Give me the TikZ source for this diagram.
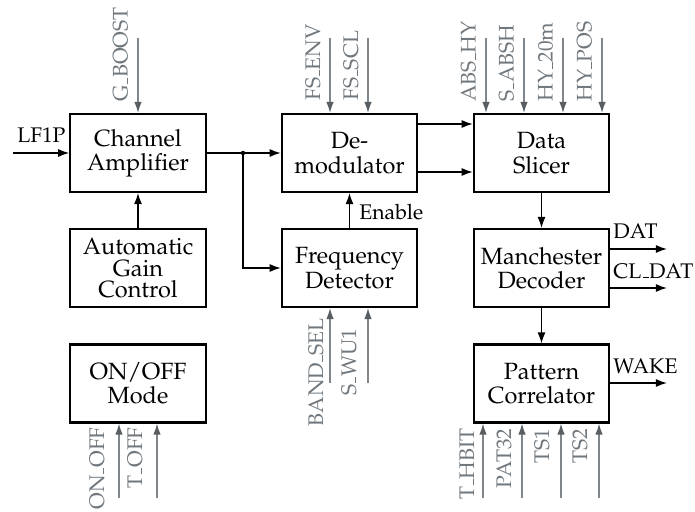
\documentclass[tikz,border=0pt]{standalone}
\usepackage[OT1]{fontenc}
\usepackage{mathpazo}
\usetikzlibrary{arrows.meta}
\definecolor{sigline}{RGB}{128,134,138}
\definecolor{sighead}{RGB}{88,94,98}
\definecolor{sigtext}{RGB}{112,120,126}
\tikzset{
  blk/.style={draw, line width=0.9pt, minimum width=57.65pt, minimum height=33.2pt,
    inner sep=0pt, align=center, font=\fontsize{10pt}{10.3pt}\selectfont},
  wire/.style={line width=0.55pt},
  conn/.style={wire, -{Latex[length=4.7pt,width=3.4pt]}},
  sig/.style={draw=sigline, line width=0.55pt, -{Latex[length=4.7pt,width=3.2pt,color=sighead]}},
  toplbl/.style={rotate=90, anchor=base west, inner sep=0pt, text=sigtext, font=\small},
  botlbl/.style={rotate=90, anchor=base east, inner sep=0pt, text=sigtext, font=\small},
  outlbl/.style={anchor=base west, inner sep=0pt, font=\small},
}
\begin{document}
\begin{tikzpicture}[x=0.4255pt, y=-0.4255pt]
\useasboundingbox (0,0) rectangle (695,511);

% blocks
\node[blk] (ca)  at (138,153)   {Channel\\Amplifier};
\node[blk, font=\fontsize{10pt}{9.3pt}\selectfont] (agc) at (138,268) {Automatic\\Gain\\Control};
\node[blk] (oo)  at (138,383.5) {ON/OFF\\Mode};
\node[blk] (dem) at (349.5,153) {De-\\modulator};
\node[blk] (fd)  at (349.5,268) {Frequency\\Detector};
\node[blk] (ds)  at (541.5,153) {Data\\Slicer};
\node[blk] (md)  at (541.5,268) {Manchester\\Decoder};
\node[blk] (pc)  at (541.5,383.5) {Pattern\\Correlator};

% main signal path
\coordinate (lf) at (13,153);
\draw[conn] (lf) -- (ca.west);
\node[outlbl] (lflbl) at (17,143) {LF1P};
\coordinate (j) at (243,153);
\draw[wire] (ca.east) -- (j);
\fill (j) circle[radius=0.95pt];
\draw[conn] (j) -- (dem.west);
\draw[conn] (j) |- (fd.west);
\draw[conn] (agc.north) -- (ca.south);
\draw[conn] (fd.north) -- (dem.south);
\node[outlbl] (en) at (359,220) {Enable};
\draw[conn] (dem.east |- 0,124) -- (ds.west |- 0,124);
\draw[conn] (dem.east |- 0,172) -- (ds.west |- 0,172);
\draw[conn] (ds.south) -- (md.north);
\draw[conn] (md.south) -- (pc.north);

% outputs
\coordinate (dat) at (667,249);
\coordinate (cld) at (667,288);
\coordinate (wk)  at (667,383);
\draw[conn] (md.east |- dat) -- (dat);
\draw[conn] (md.east |- cld) -- (cld);
\draw[conn] (pc.east |- wk) -- (wk);
\node[outlbl] (datl) at (613,238) {DAT};
\node[outlbl] (cldl) at (613,278) {CL\_DAT};
\node[outlbl] (wkl)  at (613,373) {WAKE};

% configuration inputs from above
\coordinate (gb) at (138,38);
\draw[sig] (gb) -- (gb |- ca.north);
\node[toplbl] (gbl) at (127.5,102) {G\_BOOST};
\coordinate (fe) at (330,38);
\coordinate (fs) at (368,38);
\draw[sig] (fe) -- (fe |- dem.north);
\draw[sig] (fs) -- (fs |- dem.north);
\node[toplbl] (fel) at (320,101) {FS\_ENV};
\node[toplbl] (fsl) at (358,101) {FS\_SCL};
\coordinate (s1) at (486,38);
\coordinate (s2) at (524,38);
\coordinate (s3) at (563,38);
\coordinate (s4) at (602,38);
\foreach \c in {s1,s2,s3,s4} \draw[sig] (\c) -- (\c |- ds.north);
\node[toplbl] (s1l) at (475.5,102) {ABS\_HY};
\node[toplbl] (s2l) at (513.5,102) {S\_ABSH};
\node[toplbl] (s3l) at (552.5,102) {HY\_20m};
\node[toplbl] (s4l) at (591.5,102) {HY\_POS};

% configuration inputs from below
\coordinate (o1) at (119,498);
\coordinate (o2) at (157,498);
\draw[sig] (o1) -- (o1 |- oo.south);
\draw[sig] (o2) -- (o2 |- oo.south);
\node[botlbl] (o1l) at (104,427) {ON\_OFF};
\node[botlbl] (o2l) at (142,427) {T\_OFF};
\coordinate (b1) at (330,383);
\coordinate (b2) at (368,383);
\draw[sig] (b1) -- (b1 |- fd.south);
\draw[sig] (b2) -- (b2 |- fd.south);
\node[botlbl] (b1l) at (323,318) {BAND\_SEL};
\node[botlbl] (b2l) at (356,328) {S\_WU1};
\coordinate (p1) at (483,498);
\coordinate (p2) at (522,498);
\coordinate (p3) at (561,498);
\coordinate (p4) at (599,498);
\foreach \c in {p1,p2,p3,p4} \draw[sig] (\c) -- (\c |- pc.south);
\node[botlbl] (p1l) at (474,428) {T\_HBIT};
\node[botlbl] (p2l) at (511,428) {PAT32};
\node[botlbl] (p3l) at (549,428) {TS1};
\node[botlbl] (p4l) at (587,428) {TS2};
\end{tikzpicture}
\end{document}
